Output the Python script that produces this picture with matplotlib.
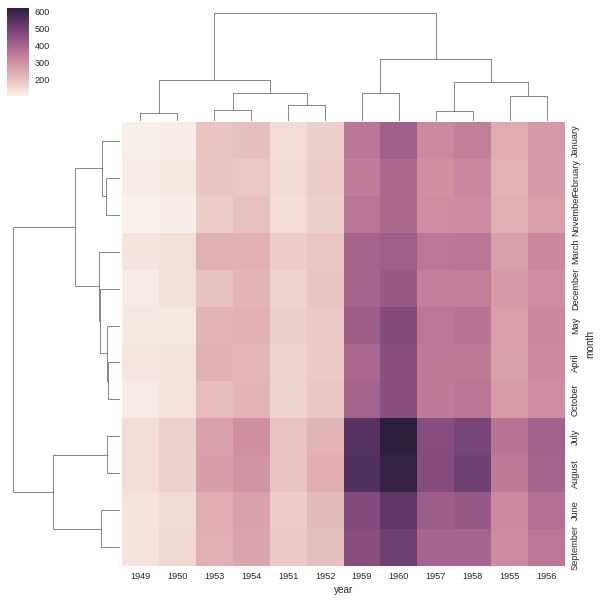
import numpy as np
import matplotlib
matplotlib.use("Agg")
import matplotlib.pyplot as plt
from matplotlib.collections import LineCollection
import seaborn as sns

# ---------------- data (flights: passengers per month/year) ----------------
years = ["1949", "1950", "1951", "1952", "1953", "1954",
         "1955", "1956", "1957", "1958", "1959", "1960"]
months = ["January", "February", "March", "April", "May", "June", "July",
          "August", "September", "October", "November", "December"]
p1949 = [112, 118, 132, 129, 121, 135, 148, 148, 136, 119, 104, 118]
p1950 = [115, 126, 141, 135, 125, 149, 170, 170, 158, 133, 114, 140]
p1951 = [145, 150, 178, 163, 172, 178, 199, 199, 184, 162, 146, 166]
p1952 = [171, 180, 193, 181, 183, 218, 230, 242, 209, 191, 172, 194]
p1953 = [196, 196, 236, 235, 229, 243, 264, 272, 237, 211, 180, 201]
p1954 = [204, 188, 235, 227, 234, 264, 302, 293, 259, 229, 203, 229]
p1955 = [242, 233, 267, 269, 270, 315, 364, 347, 312, 274, 237, 278]
p1956 = [284, 277, 317, 313, 318, 374, 413, 405, 355, 306, 271, 306]
p1957 = [315, 301, 356, 348, 355, 422, 465, 467, 404, 347, 305, 336]
p1958 = [340, 318, 362, 348, 363, 435, 491, 505, 404, 359, 310, 337]
p1959 = [360, 342, 406, 396, 420, 472, 548, 559, 463, 407, 362, 405]
p1960 = [417, 391, 419, 461, 472, 535, 622, 606, 508, 461, 390, 432]
cbar_ticks = [200, 300, 400, 500, 600]

data = np.array([p1949, p1950, p1951, p1952, p1953, p1954,
                 p1955, p1956, p1957, p1958, p1959, p1960], dtype=float).T  # rows = months


# ---------------- hierarchical clustering (average linkage, euclidean) -------
def upgma(X):
    n = len(X)
    D = np.sqrt(((X[:, None, :] - X[None, :, :]) ** 2).sum(-1))
    clusters = {i: [i] for i in range(n)}
    Z = []
    nid = n
    while len(clusters) > 1:
        ids = sorted(clusters)
        best = None
        for i in range(len(ids)):
            for j in range(i + 1, len(ids)):
                a, b = ids[i], ids[j]
                d = D[np.ix_(clusters[a], clusters[b])].mean()
                if best is None or d < best[0]:
                    best = (d, a, b)
        d, a, b = best
        Z.append((min(a, b), max(a, b), d))
        clusters[nid] = clusters.pop(a) + clusters.pop(b)
        nid += 1
    return Z, n


def dendro(Z, n):
    children = {n + k: z for k, z in enumerate(Z)}
    leaves, segs = [], []

    def walk(node):
        if node < n:
            pos = 10 * len(leaves) + 5
            leaves.append(node)
            return pos, 0.0
        a, b, d = children[node]
        xa, ha = walk(a)
        xb, hb = walk(b)
        segs.append(([xa, xa, xb, xb], [ha, d, d, hb]))
        return (xa + xb) / 2.0, d

    walk(n + len(Z) - 1)
    return leaves, segs


row_Z, nr = upgma(data)
col_Z, nc = upgma(data.T)
row_leaves, row_segs = dendro(row_Z, nr)
col_leaves, col_segs = dendro(col_Z, nc)
ordered = data[np.ix_(row_leaves, col_leaves)]

# ---------------- figure ----------------
plt.rcParams["font.family"] = ["Liberation Sans", "DejaVu Sans"]
plt.rcParams["text.color"] = "#262626"
plt.rcParams["axes.labelcolor"] = "#262626"
plt.rcParams["xtick.color"] = "#262626"
plt.rcParams["ytick.color"] = "#262626"

W, H = 603, 604
fig = plt.figure(figsize=(W / 60, H / 60), dpi=60)


def px_axes(x0, y0, x1, y1):
    return fig.add_axes([x0 / W, 1 - y1 / H, (x1 - x0) / W, (y1 - y0) / H])


cmap = sns.cubehelix_palette(light=.95, as_cmap=True)
vmin, vmax = data.min(), data.max()

ax_hm = px_axes(122, 122.3, 565, 565.7)
ax_row = px_axes(7.6, 122.3, 120, 565.7)
ax_col = px_axes(122, 8, 565, 120.7)
cax = px_axes(7, 8, 29, 96)

# heatmap
mesh = ax_hm.pcolormesh(np.arange(nc + 1), np.arange(nr + 1), ordered,
                        cmap=cmap, vmin=vmin, vmax=vmax)
ax_hm.set_xlim(0, nc)
ax_hm.set_ylim(nr, 0)
for s in ax_hm.spines.values():
    s.set_visible(False)
ax_hm.set_xticks(np.arange(nc) + .5)
ax_hm.set_xticklabels([years[i] for i in col_leaves])
ax_hm.set_yticks(np.arange(nr) + .5)
ax_hm.set_yticklabels([months[i] for i in row_leaves], rotation=90, va="center")
ax_hm.yaxis.tick_right()
ax_hm.yaxis.set_label_position("right")
ax_hm.tick_params(length=0, pad=7, labelsize=11)
ax_hm.set_xlabel("year", fontsize=12, labelpad=5)
ax_hm.set_ylabel("month", fontsize=12, labelpad=6)

# dendrograms
lw, lc = 0.7, "#333333"
col_max = max(max(h) for _, h in col_segs)
ax_col.add_collection(LineCollection([list(zip(x, h)) for x, h in col_segs],
                                     linewidths=lw, colors=lc))
ax_col.set_xlim(0, 10 * nc)
ax_col.set_ylim(0, col_max * 1.05)
ax_col.set_axis_off()

row_max = max(max(h) for _, h in row_segs)
ax_row.add_collection(LineCollection([list(zip(h, x)) for x, h in row_segs],
                                     linewidths=lw, colors=lc))
ax_row.set_xlim(row_max * 1.05, 0)
ax_row.set_ylim(10 * nr, 0)
ax_row.set_axis_off()

# colorbar
cb = fig.colorbar(mesh, cax=cax, ticks=cbar_ticks)
cb.outline.set_visible(False)
cax.tick_params(length=0, pad=7, labelsize=11)

fig.savefig("out.png", dpi=60)
